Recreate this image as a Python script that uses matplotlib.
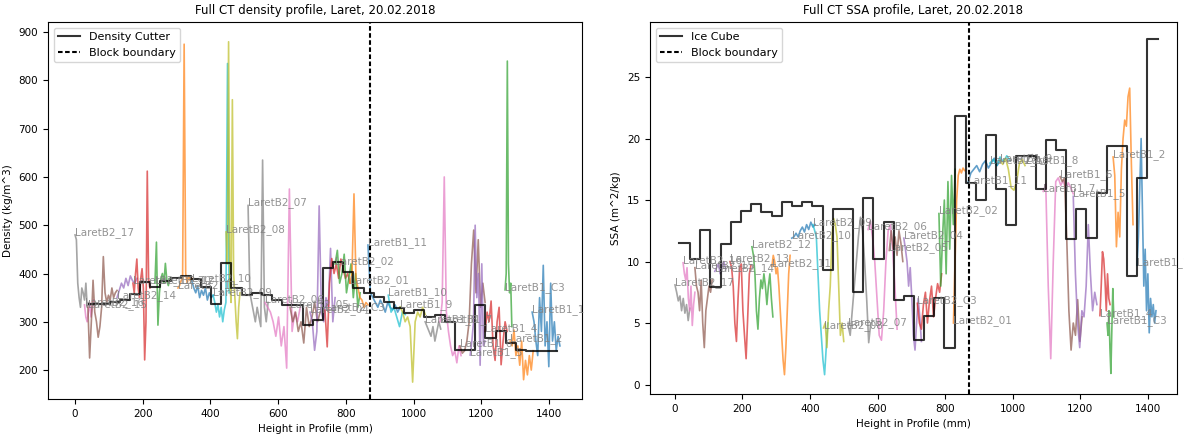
#!/usr/bin/env python3

"""
Full CT density and SSA profiles for Laret, 20.02.2018
"""

import numpy as np
import matplotlib.pyplot as plt

BLOCK_BOUNDARY = 870

# CT samples, bottom to top
SAMPLES = [
    'LaretB2_17', 'LaretB2_16', 'LaretB2_15', 'LaretB2_14', 'LaretB2_13',
    'LaretB2_12', 'LaretB2_11', 'LaretB2_10', 'LaretB2_09', 'LaretB2_08',
    'LaretB2_07', 'LaretB2_06', 'LaretB2_05', 'LaretB2_04', 'LaretB2_C3',
    'LaretB2_02', 'LaretB2_01', 'LaretB1_11', 'LaretB1_10', 'LaretB1_9',
    'LaretB1_8', 'LaretB1_7', 'LaretB1_6', 'LaretB1_5', 'LaretB1_4',
    'LaretB1_C3', 'LaretB1_2', 'LaretB1_1',
]

# height range (mm) covered by each sample in the density profile
DENS_SPAN = [
    (0, 44), (28, 55), (38, 124), (124, 183), (171, 221),
    (236, 280), (304, 345), (345, 408), (408, 455), (446, 487),
    (511, 570), (561, 665), (635, 724), (694, 768), (738, 812),
    (768, 842), (812, 865), (865, 960), (925, 975), (960, 1034),
    (1034, 1080), (1078, 1140), (1137, 1211), (1167, 1211), (1211, 1276),
    (1270, 1290), (1285, 1353), (1350, 1432),
]

DENS_VALUES = [
    [480, 470, 380, 350, 330, 370, 360, 345, 380, 330, 340, 335],
    [335, 310, 300, 320, 340, 310, 330, 345],
    [330, 225, 300, 386, 320, 300, 268, 290, 330, 435, 360, 340, 355, 345, 370, 350, 360, 365],
    [350, 365, 380, 370, 390, 375, 395, 385, 380, 390],
    [380, 360, 400, 430, 370, 350, 390, 410, 370, 221, 300, 612, 390, 370],
    [380, 465, 293, 360, 390, 400, 380, 421, 385, 375, 390],
    [370, 375, 385, 390, 875, 400, 380, 395, 385, 390],
    [385, 370, 360, 375, 350, 365, 355, 370, 345, 360, 350, 355],
    [355, 340, 320, 335, 310, 330, 300, 325, 340, 835, 360],
    [486, 420, 880, 380, 340, 760, 400, 350, 300, 265, 330, 360],
    [541, 360, 340, 320, 300, 330, 310, 290, 635, 330, 300, 340],
    [340, 330, 320, 300, 270, 310, 250, 290, 204, 575, 280, 320, 300, 330],
    [330, 300, 320, 280, 300, 256, 330, 290, 310, 340, 300, 320],
    [320, 300, 241, 280, 540, 320, 300, 350, 330, 452, 300, 350],
    [324, 248, 380, 431, 400, 420, 390, 430, 410, 390, 400, 380],
    [420, 448, 380, 400, 440, 360, 390, 420, 350, 400, 330, 360],
    [380, 400, 565, 390, 370, 350, 345, 330, 340, 335],
    [459, 360, 350, 340, 330, 345, 335, 320, 340, 330, 325, 335, 320, 330],
    [355, 320, 330, 310, 290, 320, 315],
    [331, 320, 300, 310, 290, 175, 300, 320, 310, 330, 315],
    [300, 290, 280, 270, 290, 260, 280, 300, 285],
    [300, 340, 600, 320, 280, 250, 230, 240, 215, 250, 230],
    [250, 235, 240, 260, 300, 420, 490, 360, 470, 330, 380, 340],
    [231, 260, 300, 500, 350, 400, 210, 420, 250, 260],
    [280, 320, 300, 343, 250, 220, 300, 330, 211, 260, 300, 280],
    [366, 400, 840, 420, 360, 380, 290],
    [260, 250, 283, 230, 250, 210, 260, 180, 220, 190, 230, 200, 240],
    [320, 300, 260, 230, 350, 280, 417, 250, 300, 207, 380, 260, 300, 240, 270, 250],
]

# height range (mm) covered by each sample in the SSA profile
SSA_SPAN = [
    (0, 44), (24, 59), (59, 110), (118, 150), (163, 225),
    (228, 290), (287, 341), (346, 415), (409, 453), (440, 500),
    (513, 580), (572, 658), (635, 675), (678, 730), (718, 790),
    (782, 830), (825, 858), (868, 963), (933, 993), (963, 1037),
    (1040, 1087), (1091, 1180), (1141, 1206), (1180, 1250), (1259, 1289),
    (1280, 1300), (1298, 1357), (1369, 1425),
]

SSA_VALUES = [
    [8.1, 7.5, 6.8, 7.2, 6.0, 7.0, 5.8, 6.5, 5.2, 6.2],
    [9.9, 9.0, 8.5, 9.5, 7.0, 6.0, 8.0, 4.8, 6.5, 7.5],
    [9.5, 8.0, 7.5, 6.0, 8.5, 5.0, 3.0, 6.0, 7.0, 8.0, 7.5, 8.5],
    [9.2, 9.5, 9.8, 9.0, 9.6, 10.0, 9.4],
    [10.0, 9.5, 8.0, 5.0, 3.5, 7.0, 9.5, 9.8, 6.0, 4.0, 2.1, 5.5, 9.0, 9.7],
    [11.2, 10.5, 9.0, 6.0, 4.5, 7.0, 8.5, 7.8, 9.0, 8.0, 6.5, 8.0, 9.0, 7.0, 5.5],
    [9.6, 10.5, 10.0, 9.0, 9.5, 8.0, 6.0, 4.0, 2.0, 0.8, 3.0, 6.0, 9.0, 10.5],
    [11.9, 12.0, 12.3, 12.0, 12.5, 12.8, 12.4, 13.0, 12.6, 13.2, 12.8, 13.0],
    [13.0, 12.5, 12.0, 9.0, 6.0, 4.0, 2.0, 0.8, 3.0, 5.0],
    [4.6, 5.0, 3.0, 6.0, 8.0, 12.0, 13.5, 13.0, 12.0, 8.0, 4.0, 5.0, 3.5],
    [4.8, 4.0, 6.0, 8.0, 10.0, 12.0, 13.6, 12.5, 10.0, 7.0, 3.4, 5.0],
    [12.6, 13.3, 12.0, 10.0, 7.0, 4.0, 3.6, 6.0, 10.0, 12.5, 13.0, 11.0, 8.0, 4.5],
    [10.9, 12.5, 11.0, 12.0, 10.5, 12.5, 11.5, 10.0],
    [11.9, 11.0, 10.0, 8.0, 9.5, 7.0, 4.0, 2.8, 5.0, 7.0, 5.5, 3.5],
    [6.6, 5.0, 4.5, 6.5, 7.5, 5.0, 6.8, 8.0, 5.5, 7.0, 8.2, 7.5, 9.0],
    [13.9, 8.0, 12.0, 15.0, 9.0, 16.5, 11.0, 17.0, 13.0, 17.5],
    [5.0, 10.0, 15.0, 17.0, 17.5, 17.2, 17.6, 17.4],
    [16.4, 17.2, 17.5, 17.8, 17.3, 17.9, 18.2, 17.6, 18.0, 18.4, 17.8, 18.2],
    [18.0, 18.3, 17.8, 18.5, 18.1, 18.6, 18.2],
    [18.2, 17.9, 18.4, 17.5, 16.0, 15.8, 16.5, 18.0, 18.3, 17.8],
    [18.0, 18.4, 18.7, 18.2, 18.5, 18.0],
    [15.7, 16.3, 8.0, 2.1, 10.0, 16.5, 16.8, 16.2, 16.6, 15.9, 16.4, 16.0, 15.5],
    [16.9, 16.5, 16.8, 12.0, 6.0, 2.8, 5.0, 4.0, 6.9, 3.5, 5.5],
    [15.3, 9.0, 5.0, 3.0, 6.0, 5.5, 8.0, 13.0, 9.0, 6.0, 7.5, 6.5],
    [5.6, 8.0, 10.8, 10.2, 8.5, 6.0, 9.0, 7.0, 6.5],
    [5.0, 4.0, 6.0, 3.0, 0.9, 4.5, 7.8, 5.5],
    [18.5, 17.0, 11.2, 14.0, 12.0, 17.5, 20.0, 21.5, 21.0, 23.4, 24.1, 18.0, 13.0],
    [9.7, 12.0, 16.0, 20.0, 14.0, 8.0, 11.0, 6.0, 9.0, 4.2, 7.0, 5.5, 6.5, 5.0, 6.0],
]

# Density cutter, 30 mm layers starting at 42 mm
CUTTER_DENSITY = [
    337, 337, 341, 346, 357, 383, 372, 384, 390, 395, 388, 372, 337, 421,
    370, 355, 359, 355, 345, 335, 335, 293, 303, 411, 424, 403, 370, 360,
    351, 340, 328, 318, 324, 310, 314, 300, 241, 241, 334, 266, 280, 256,
    241, 239, 239, 240,
]
CUTTER_EDGES = np.arange(42, 42 + 30 * len(CUTTER_DENSITY) + 1, 30)

# Ice Cube layers
ICE_EDGES = [
    12, 44, 74, 104, 136, 166, 196, 225, 255, 287, 317, 347, 376, 406, 439,
    468, 497, 527, 557, 587, 619, 649, 679, 708, 738, 767, 797, 830, 862,
    892, 921, 951, 981, 1010, 1040, 1070, 1099, 1129, 1159, 1189, 1219,
    1250, 1280, 1310, 1339, 1369, 1398, 1431,
]
ICE_SSA = [
    11.5, 10.2, 12.6, 7.9, 11.4, 13.2, 14.1, 14.7, 14.0, 13.7, 14.8, 14.5,
    14.8, 14.5, 9.3, 14.3, 14.3, 7.5, 15.2, 10.2, 13.2, 6.9, 7.2, 3.6, 5.6,
    7.0, 3.0, 21.8, 16.4, 15.0, 20.3, 15.9, 13.0, 18.6, 18.6, 15.9, 19.9,
    19.1, 11.8, 14.3, 11.9, 15.6, 19.4, 19.4, 8.8, 16.8, 28.1,
]


def draw_profile(ax, spans, values, edges, layers, layer_label):
    n = len(SAMPLES)
    for i, (name, (h0, h1), vals) in enumerate(zip(SAMPLES, spans, values)):
        h = np.linspace(h0, h1, len(vals))
        # samples were plotted top-down, so the colour cycle runs backwards here
        color = 'C%d' % ((n - 1 - i) % 10)
        ax.plot(h, vals, color=color, alpha=0.7, linewidth=1.2)
        ax.text(h[0], vals[0], name, color='gray', alpha=0.85, fontsize=7.5)

    steps = list(layers) + [layers[-1]]
    ax.step(edges, steps, where='post', color='k', alpha=0.8, linewidth=1.5,
            label=layer_label)
    ax.axvline(BLOCK_BOUNDARY, color='k', linestyle=(0, (2.2, 1.2)),
               linewidth=1.5, label='Block boundary')
    ax.set_xlabel('Height in Profile (mm)', fontsize=7.5)
    ax.tick_params(labelsize=7.5)
    ax.legend(loc='upper left', fontsize=8)


fig = plt.figure(figsize=(11.84, 4.34), dpi=100)
ax1 = fig.add_axes([0.0405, 0.0806, 0.451, 0.8687])
ax2 = fig.add_axes([0.549, 0.0922, 0.445, 0.857])

draw_profile(ax1, DENS_SPAN, DENS_VALUES, CUTTER_EDGES, CUTTER_DENSITY, 'Density Cutter')
ax1.set_xlim(-80, 1497)
ax1.set_ylim(140, 921)
ax1.set_ylabel('Density (kg/m^3)', fontsize=7.5)
ax1.set_title('Full CT density profile, Laret, 20.02.2018', fontsize=8.5)

draw_profile(ax2, SSA_SPAN, SSA_VALUES, ICE_EDGES, ICE_SSA, 'Ice Cube')
ax2.set_xlim(-74, 1487)
ax2.set_ylim(-0.77, 29.47)
ax2.set_ylabel('SSA (m^2/kg)', fontsize=7.5)
ax2.set_title('Full CT SSA profile, Laret, 20.02.2018', fontsize=8.5)

fig.savefig('out.png', dpi=100)
